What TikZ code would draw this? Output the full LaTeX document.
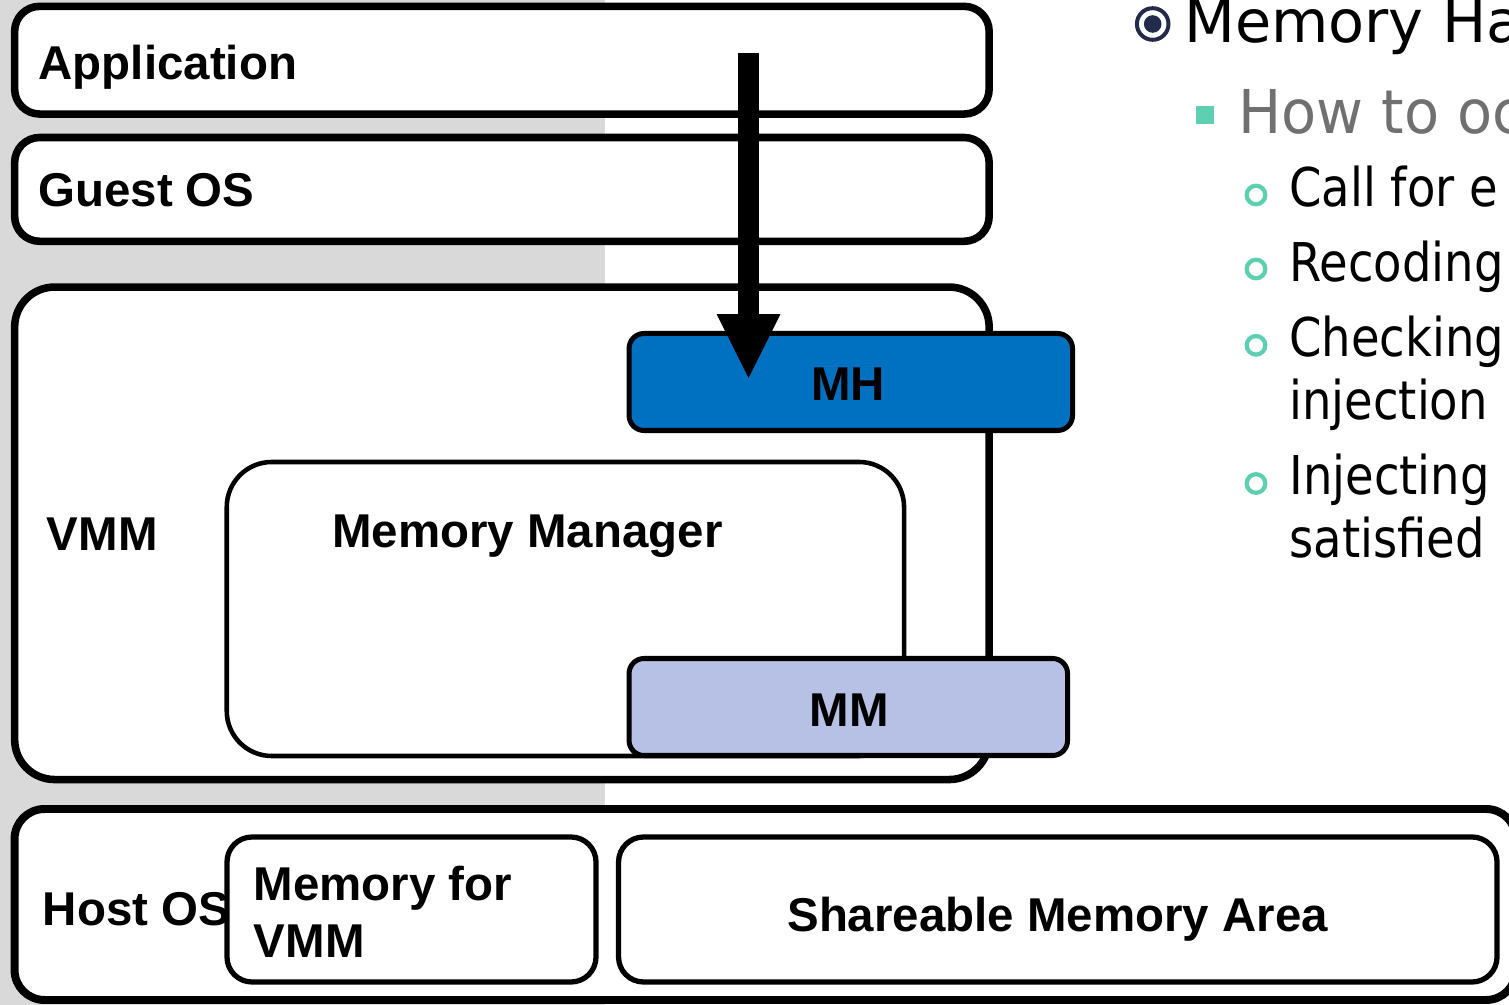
\documentclass[tikz,border=0pt]{standalone}
\usepackage{fontspec}
\setmainfont{Liberation Sans}
\newfontfamily\headfont{DejaVu Sans}
\newfontfamily\slidefont[FakeStretch=0.87]{DejaVu Sans}
\newfontfamily\subfont[FakeStretch=0.95]{DejaVu Sans}
\usetikzlibrary{arrows.meta}
\definecolor{panelgray}{HTML}{D9D9D9}
\definecolor{mhfill}{HTML}{0070C0}
\definecolor{mmfill}{HTML}{B7C1E6}
\definecolor{navyring}{HTML}{232A4C}
\definecolor{bullteal}{HTML}{5ECFB1}
\definecolor{subgray}{HTML}{707070}
\tikzset{
  box/.style={rectangle, draw=black, fill=white, inner sep=0pt},
  layer/.style={box, line width=4.3pt, rounded corners=0.5cm, minimum width=19.49cm},
  inner/.style={box, line width=2.6pt, rounded corners=0.9cm},
  unit/.style={box, line width=2.85pt, rounded corners=0.3cm, minimum height=1.94cm},
  memarea/.style={box, line width=3pt, rounded corners=0.5cm, minimum height=2.9cm},
  lbl/.style={font=\fontsize{27}{32.4}\selectfont\bfseries, inner sep=0pt, anchor=base west},
  ctrlbl/.style={lbl, anchor=base},
  callarrow/.style={-{Triangle[length=36.4pt, width=36.4pt, line width=0pt]}, line width=11.95pt},
  ringbul/.style={circle, draw=bullteal, line width=0.085cm, minimum size=0.372cm, inner sep=0pt},
  item/.style={font=\slidefont\fontsize{30.4}{36}\selectfont, inner sep=0pt, anchor=base west},
}

\begin{document}
\begin{tikzpicture}

\useasboundingbox (0,0) rectangle (30.18,-20.1);
\clip (0,0) rectangle (30.18,-20.1);
\fill[panelgray] (0,0) rectangle (12.1,-20.1);

% ── guest side layers ──────────────────────────────────────────
\node[layer, minimum height=2.154cm] (app)   at (10.038, -1.204) {};
\node[layer, minimum height=2.076cm] (guest) at (10.038, -3.788) {};
\node[layer, minimum height=9.85cm, rounded corners=0.8cm] (vmm) at (10.038, -10.666) {};

% ── inside the VMM ─────────────────────────────────────────────
\node[inner, minimum width=13.546cm, minimum height=5.88cm] (memmgr) at (11.308, -12.18) {};
\node[unit, fill=mhfill, minimum width=8.87cm] (mh) at (17.016, -7.64) {};
\node[unit, fill=mmfill, minimum width=8.77cm] (mm) at (16.966, -14.14) {};

% ── host side ──────────────────────────────────────────────────
\node[box, line width=4.55pt, rounded corners=0.6cm, minimum width=30.03cm, minimum height=3.82cm]
  (hostos) at (15.306, -18.09) {};
\node[memarea, minimum width=7.38cm]  (memvmm) at (8.23, -18.19) {};
\node[memarea, minimum width=17.57cm] (sharea) at (21.156, -18.19) {};

% ── labels ─────────────────────────────────────────────────────
\node[lbl] (applbl)   at (0.766, -1.586) {Application};
\node[lbl] (guestlbl) at (0.76, -4.134) {Guest OS};
\node[lbl] (vmmlbl)   at (0.93, -11.02) {VMM};
\node[lbl] (mgrlbl)   at (6.64, -10.96) {Memory Manager};
\node[ctrlbl] (mhlbl) at (16.96, -8.02) {MH};
\node[ctrlbl] (mmlbl) at (16.98, -14.54) {MM};
\node[lbl] (hostlbl)  at (0.85, -18.514) {Host OS};
\node[lbl] (memvmmlbl1) at (5.07, -18.0) {Memory for};
\node[lbl] (memvmmlbl2) at (5.07, -19.14) {VMM};
\node[lbl] (shalbl)   at (15.74, -18.634) {Shareable Memory Area};

% ── call into the memory handler ───────────────────────────────
\coordinate (callstart) at (14.97, -1.054);
\coordinate (calltip)   at (14.97, -7.56);
\draw[callarrow] (callstart) -- (calltip);

% ── slide text (right) ─────────────────────────────────────────
\node[circle, draw=navyring, line width=0.08cm, minimum size=0.632cm, inner sep=0pt] (hdring) at (23.054, -0.48) {};
\node[circle, fill=navyring, minimum size=0.352cm, inner sep=0pt] (hddot) at (hdring.center) {};
\node[inner sep=0pt, anchor=base west, font=\headfont\fontsize{33.5}{38}\selectfont] (hdtxt) at (23.68, -0.846) {Memory Ha};

\node[rectangle, fill=bullteal, minimum size=0.366cm, inner sep=0pt] (sqbul) at (24.1, -2.304) {};
\node[item, text=subgray, font=\subfont\fontsize{34.4}{40}\selectfont] (howtxt) at (24.756, -2.666) {How to oc};

\node[ringbul] (bul1) at (25.12, -3.9) {};
\node[ringbul] (bul2) at (25.12, -5.38) {};
\node[ringbul] (bul3) at (25.12, -6.906) {};
\node[ringbul] (bul4) at (25.12, -9.67) {};
\node[item] (itm1)  at (25.78, -4.14) {Call for e};
\node[item] (itm2)  at (25.78, -5.64) {Recoding};
\node[item] (itm3a) at (25.78, -7.134) {Checking};
\node[item] (itm3b) at (25.78, -8.40) {injection};
\node[item] (itm4a) at (25.78, -9.90) {Injecting};
\node[item] (itm4b) at (25.78, -11.16) {satisfied};

\end{tikzpicture}
\end{document}
